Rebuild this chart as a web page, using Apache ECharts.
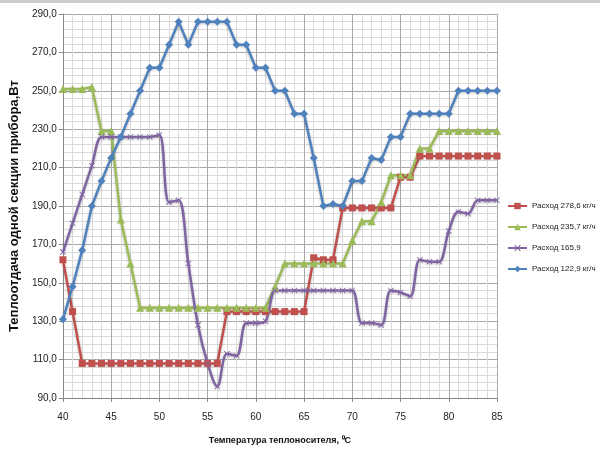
<!DOCTYPE html>
<html>
<head>
<meta charset="utf-8">
<title>Теплоотдача</title>
<script src="https://cdn.jsdelivr.net/npm/echarts@6/dist/echarts.min.js"></script>
<style>
html, body { margin: 0; padding: 0; background: #fff; }
#chart { width: 600px; height: 450px; }
</style>
</head>
<body>
<div id="chart"></div>
<script>
// температура теплоносителя, 40..85
var temps = [40,41,42,43,44,45,46,47,48,49,50,51,52,53,54,55,56,57,58,59,60,61,62,
    63,64,65,66,67,68,69,70,71,72,73,74,75,76,77,78,79,80,81,82,83,84,85];

var names = ['Расход 278,6 кг/ч', 'Расход 235,7 кг/ч', 'Расход 165,9', 'Расход 122,9 кг/ч'];

var flow278 = [162,135,108,108,108,108,108,108,108,108,108,108,108,108,108,108,108,
    135,135,135,135,135,135,135,135,135,163,162,162,189,189,189,189,189,189,205,205,
    216,216,216,216,216,216,216,216,216];
var flow235 = [251,251,251,252,229,229,183,160,137,137,137,137,137,137,137,137,137,
    137,137,137,137,137,148,160,160,160,160,160,160,160,172,182,182,192,206,206,206,
    220,220,229,229,229,229,229,229,229];
var flow165 = [166,181,196,211,226,226,226,226,226,226,227,192,193,160,128,108,96,
    113,112,129,129,130,146,146,146,146,146,146,146,146,146,129,129,128,146,145,143,
    162,161,161,177,187,186,193,193,193];
var flow122 = [131,148,167,190,203,215,226,238,250,262,262,274,286,274,286,286,286,
    286,274,274,262,262,250,250,238,238,215,190,191,190,203,203,215,214,226,226,238,
    238,238,238,238,250,250,250,250,250];

var colors = ['#C0504D', '#9BBB59', '#8064A2', '#4F81BD'];

function pairs(vals) {
    var out = [];
    for (var i = 0; i < temps.length; i++) {
        out.push([temps[i], vals[i]]);
    }
    return out;
}

var crossPath = 'path://M0,1L1,0L5,4L9,0L10,1L6,5L10,9L9,10L5,6L1,10L0,9L4,5Z';

function makeSeries(idx, vals, symbol, size, smooth) {
    return {
        type: 'line',
        name: names[idx],
        data: pairs(vals),
        symbol: symbol,
        symbolSize: size,
        showAllSymbol: true,
        smooth: smooth,
        lineStyle: {
            color: colors[idx],
            width: 2.5,
            shadowColor: 'rgba(0,0,0,0.25)',
            shadowBlur: 3,
            shadowOffsetY: 1
        },
        itemStyle: { color: colors[idx] }
    };
}

var myChart = echarts.init(document.getElementById('chart'));
var option = {
    animation: false,
    backgroundColor: '#fff',
    textStyle: { fontFamily: 'Liberation Sans' },
    graphic: [{
        type: 'rect',
        shape: { x: 0, y: 0, width: 600, height: 3 },
        style: { fill: '#cccccc' }
    }],
    grid: {
        left: 48,
        right: 103,
        top: 14,
        bottom: 52
    },
    legend: {
        orient: 'vertical',
        left: 507,
        top: 202,
        padding: 0,
        itemGap: 13,
        itemWidth: 19,
        itemHeight: 8,
        textStyle: { fontSize: 8, color: '#222' },
        data: names
    },
    xAxis: {
        type: 'value',
        min: 40,
        max: 85,
        interval: 5,
        name: 'Температура теплоносителя, ⁰С',
        nameLocation: 'middle',
        nameGap: 38,
        nameTextStyle: { fontSize: 9, fontWeight: 'bold', color: '#111' },
        axisLine: { lineStyle: { color: '#888' } },
        axisTick: { show: true, length: 4, lineStyle: { color: '#888' } },
        axisLabel: { color: '#222', fontSize: 10, margin: 14 },
        splitLine: { show: true, lineStyle: { color: '#a8a8a8' } },
        minorTick: { show: false, splitNumber: 5 },
        minorSplitLine: { show: true, lineStyle: { color: '#dadada' } }
    },
    yAxis: {
        type: 'value',
        min: 90,
        max: 290,
        interval: 20,
        name: 'Теплоотдача одной секции прибора,Вт',
        nameLocation: 'middle',
        nameGap: 34,
        nameTextStyle: { fontSize: 13, fontWeight: 'bold', color: '#111' },
        axisLine: { show: true, lineStyle: { color: '#888' } },
        axisTick: { show: true, length: 4, lineStyle: { color: '#888' } },
        axisLabel: {
            color: '#222',
            fontSize: 10,
            margin: 6,
            formatter: function (v) { return v.toFixed(1).replace('.', ','); }
        },
        splitLine: { show: true, lineStyle: { color: '#a8a8a8' } },
        minorTick: { show: false, splitNumber: 5 },
        minorSplitLine: { show: true, lineStyle: { color: '#dadada' } }
    },
    series: [
        makeSeries(0, flow278, 'rect', 7, false),
        makeSeries(1, flow235, 'triangle', 8, false),
        makeSeries(2, flow165, crossPath, 6, 0.35),
        makeSeries(3, flow122, 'diamond', 8, false)
    ]
};
myChart.setOption(option);
</script>
</body>
</html>
